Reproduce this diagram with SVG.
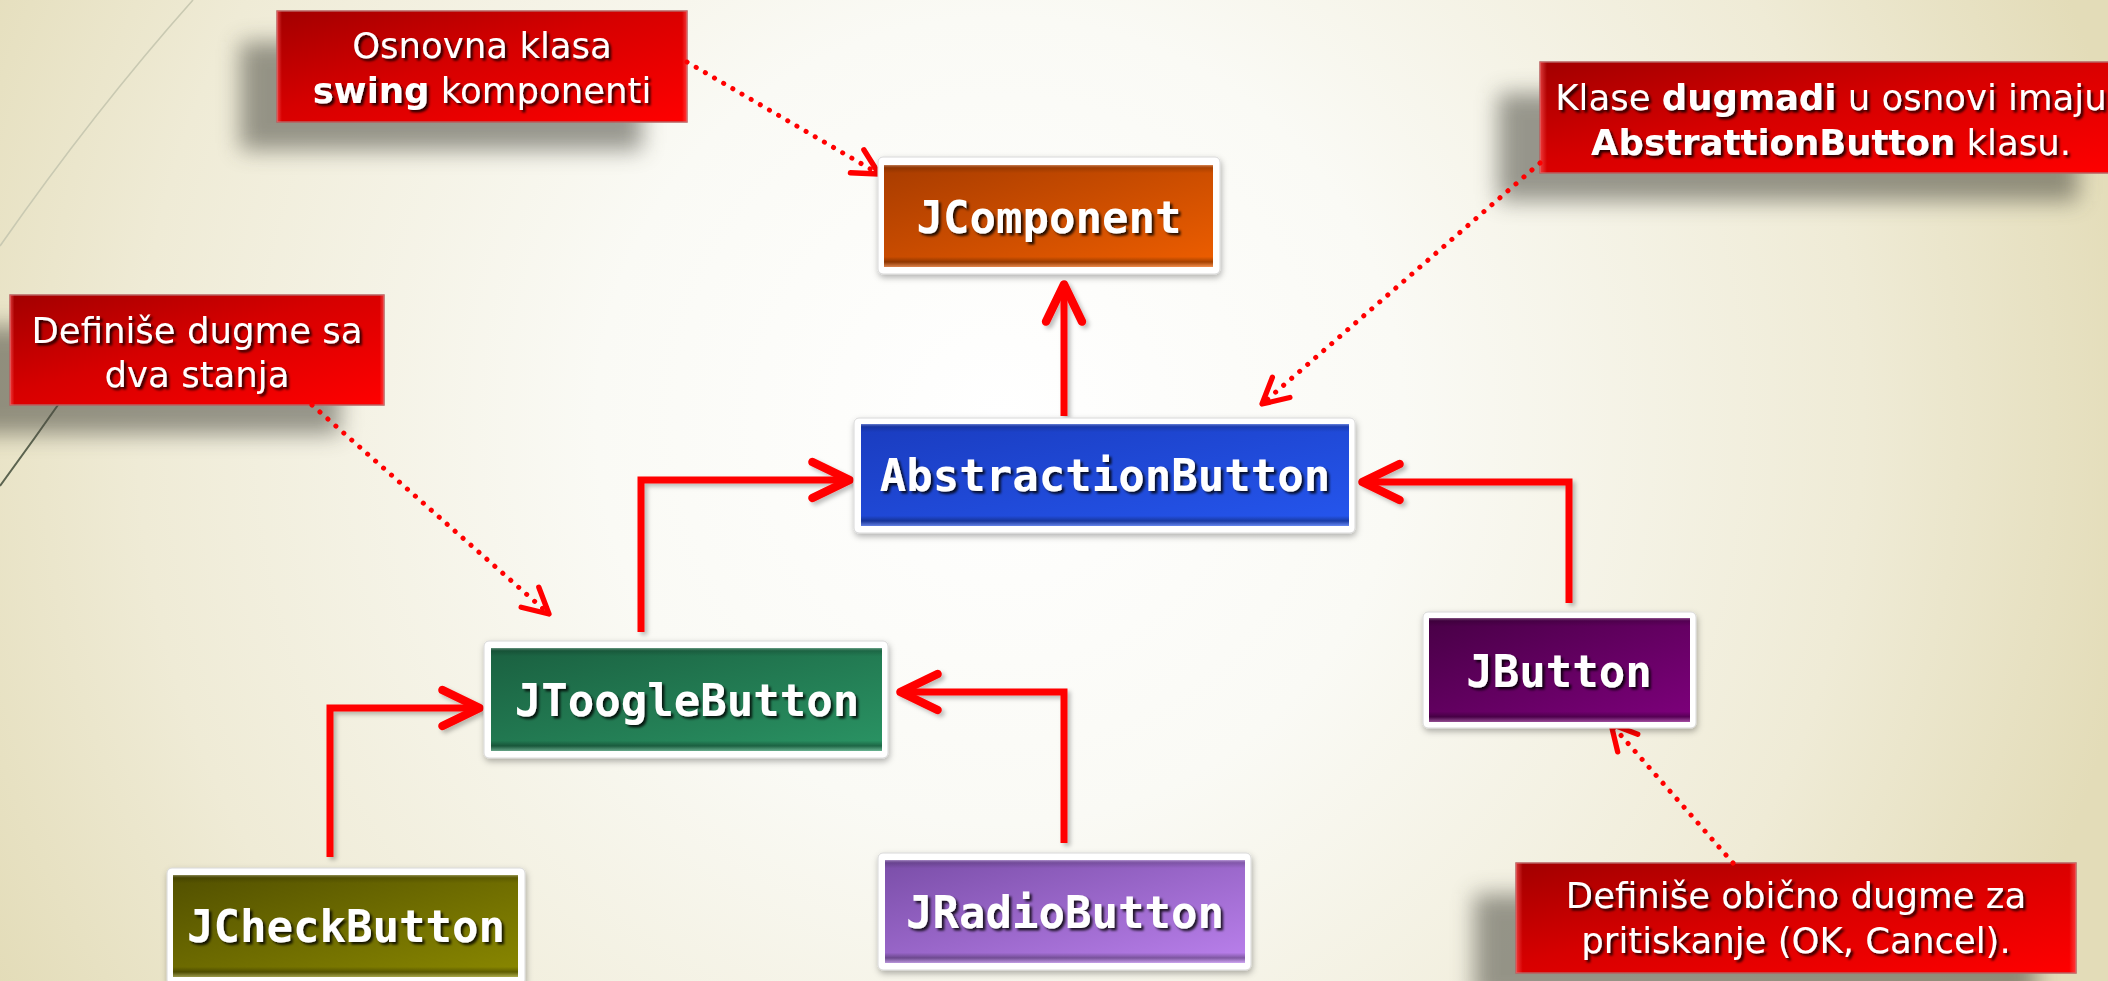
<svg xmlns="http://www.w3.org/2000/svg" width="2108" height="981" viewBox="0 0 2108 981">
<defs>
  <radialGradient id="bg" gradientUnits="userSpaceOnUse" cx="1000" cy="420" r="1150">
    <stop offset="0" stop-color="#ffffff"/>
    <stop offset="0.35" stop-color="#fafaf5"/>
    <stop offset="0.75" stop-color="#efebd6"/>
    <stop offset="1" stop-color="#e3dcb8"/>
  </radialGradient>
  <linearGradient id="gRed" x1="0" y1="0" x2="1" y2="1">
    <stop offset="0" stop-color="#a20000"/>
    <stop offset="0.45" stop-color="#d60000"/>
    <stop offset="1" stop-color="#ff0000"/>
  </linearGradient>
  <linearGradient id="gOrange" x1="0" y1="0" x2="1" y2="1">
    <stop offset="0" stop-color="#a83c00"/>
    <stop offset="1" stop-color="#ee5e00"/>
  </linearGradient>
  <linearGradient id="gBlue" x1="0" y1="0" x2="1" y2="1">
    <stop offset="0" stop-color="#1a3cbf"/>
    <stop offset="1" stop-color="#2556ee"/>
  </linearGradient>
  <linearGradient id="gGreen" x1="0" y1="0" x2="1" y2="1">
    <stop offset="0" stop-color="#1a6040"/>
    <stop offset="1" stop-color="#2a9464"/>
  </linearGradient>
  <linearGradient id="gOlive" x1="0" y1="0" x2="1" y2="1">
    <stop offset="0" stop-color="#525000"/>
    <stop offset="1" stop-color="#8a8800"/>
  </linearGradient>
  <linearGradient id="gLav" x1="0" y1="0" x2="1" y2="1">
    <stop offset="0" stop-color="#7a4ea8"/>
    <stop offset="1" stop-color="#ba80ec"/>
  </linearGradient>
  <linearGradient id="gPlum" x1="0" y1="0" x2="1" y2="1">
    <stop offset="0" stop-color="#480046"/>
    <stop offset="1" stop-color="#7e007c"/>
  </linearGradient>
  <linearGradient id="bevel" x1="0" y1="0" x2="0" y2="1">
    <stop offset="0" stop-color="#ffffff" stop-opacity="0.35"/>
    <stop offset="0.03" stop-color="#000000" stop-opacity="0.15"/>
    <stop offset="0.08" stop-color="#000000" stop-opacity="0"/>
    <stop offset="0.9" stop-color="#000000" stop-opacity="0"/>
    <stop offset="0.95" stop-color="#000000" stop-opacity="0.3"/>
    <stop offset="1" stop-color="#ffffff" stop-opacity="0.3"/>
  </linearGradient>
  <linearGradient id="cbevel" x1="0" y1="0" x2="1" y2="0">
    <stop offset="0" stop-color="#ff6060" stop-opacity="0.6"/>
    <stop offset="0.012" stop-color="#ff6060" stop-opacity="0"/>
    <stop offset="0.988" stop-color="#ff6060" stop-opacity="0"/>
    <stop offset="1" stop-color="#ff6060" stop-opacity="0.6"/>
  </linearGradient>
  <filter id="blur" x="-20%" y="-40%" width="140%" height="180%">
    <feGaussianBlur stdDeviation="11"/>
  </filter>
  <filter id="ts" x="-10%" y="-30%" width="120%" height="160%">
    <feDropShadow dx="2.5" dy="2.5" stdDeviation="1" flood-color="#000" flood-opacity="0.8"/>
  </filter>
  <filter id="nsh" x="-10%" y="-20%" width="120%" height="140%">
    <feDropShadow dx="1" dy="3" stdDeviation="3" flood-color="#000" flood-opacity="0.3"/>
  </filter>
  <filter id="lsh" x="-10%" y="-10%" width="120%" height="120%">
    <feDropShadow dx="3" dy="3" stdDeviation="2" flood-color="#000" flood-opacity="0.25"/>
  </filter>
  <marker id="ah" markerUnits="userSpaceOnUse" markerWidth="60" markerHeight="60" viewBox="-40 -25 50 50" refX="0" refY="0" orient="auto" overflow="visible">
    <path d="M-28,-15 L3,0 L-28,15" fill="none" stroke="#ff0000" stroke-width="7" stroke-linecap="round" stroke-linejoin="round"/>
  </marker>
  <marker id="ahd" markerUnits="userSpaceOnUse" markerWidth="40" markerHeight="40" viewBox="-25 -15 30 30" refX="0" refY="0" orient="auto" overflow="visible">
    <path d="M-19,-10 L0,0 L-19,10" fill="none" stroke="#ff0000" stroke-width="4" stroke-linecap="round" stroke-linejoin="round"/>
  </marker>
</defs>
<style>
  .frame { fill: #ffffff; stroke: #d8d8d8; stroke-width: 1; filter: url(#nsh); }
  .nt { font-family: "DejaVu Sans Mono", "Liberation Mono", monospace; font-weight: bold; font-size: 44px; fill: #ffffff; text-anchor: middle; filter: url(#ts); }
  .csh { fill: #4a4a40; opacity: 0.55; filter: url(#blur); }
  .cb { fill: url(#gRed); stroke: #b86060; stroke-width: 1.5; }
  .cbv { fill: url(#cbevel); }
  .ct { font-family: "DejaVu Sans", "Liberation Sans", sans-serif; font-size: 35.5px; fill: #ffffff; text-anchor: middle; filter: url(#ts); }
  .b { font-weight: bold; }
  .solid { fill: none; stroke: #ff0000; stroke-width: 7; stroke-linejoin: miter; marker-end: url(#ah); }
  .dot { fill: none; stroke: #ff0000; stroke-width: 5; stroke-linecap: round; stroke-dasharray: 0.1 10.5; marker-end: url(#ahd); }
  .deco { fill: none; }
</style>

<rect x="0" y="0" width="2108" height="981" fill="url(#bg)"/>
<path class="deco" d="M193,0 Q95,110 0,246" stroke="#c9c9b2" stroke-width="1.6"/>
<path class="deco" d="M130,300 Q70,390 0,486" stroke="#5c6450" stroke-width="2"/>

<!-- callouts -->
<g id="callout-osnovna">
  <rect class="csh" x="240" y="42" width="402" height="108"/>
  <rect class="cb" x="277" y="11" width="410" height="111"/>
  <rect class="cbv" x="277" y="11" width="410" height="111"/>
  <text class="ct" x="482" y="58">Osnovna klasa</text>
  <text class="ct" x="482" y="103"><tspan class="b">swing</tspan> komponenti</text>
</g>
<g id="callout-dva-stanja">
  <rect class="csh" x="-28" y="326" width="368" height="108"/>
  <rect class="cb" x="10" y="295" width="374" height="110"/>
  <rect class="cbv" x="10" y="295" width="374" height="110"/>
  <text class="ct" x="197" y="343">Definiše dugme sa</text>
  <text class="ct" x="197" y="387">dva stanja</text>
</g>
<g id="callout-klase">
  <rect class="csh" x="1498" y="93" width="580" height="108"/>
  <rect class="cb" x="1540" y="62" width="582" height="111"/>
  <rect class="cbv" x="1540" y="62" width="582" height="111"/>
  <text class="ct" x="1831" y="110" font-size="34.5">Klase <tspan class="b">dugmadi</tspan> u osnovi imaju</text>
  <text class="ct" x="1831" y="155" font-size="34.5"><tspan class="b">AbstrattionButton</tspan> klasu.</text>
</g>
<g id="callout-obicno">
  <rect class="csh" x="1474" y="894" width="562" height="108"/>
  <rect class="cb" x="1516" y="863" width="560" height="110"/>
  <rect class="cbv" x="1516" y="863" width="560" height="110"/>
  <text class="ct" x="1796" y="908" font-size="36.5">Definiše obično dugme za</text>
  <text class="ct" x="1796" y="953" font-size="36.5">pritiskanje (OK, Cancel).</text>
</g>

<!-- connectors -->
<g id="connectors">
  <g filter="url(#lsh)">
    <path class="solid" d="M1064,416 L1064,288"/>
    <path class="solid" d="M641,632 L641,480 L846,480"/>
    <path class="solid" d="M1569,603 L1569,482 L1366,482"/>
    <path class="solid" d="M330,857 L330,708 L476,708"/>
    <path class="solid" d="M1064,843 L1064,692 L904,692"/>
  </g>
  <path class="dot" d="M687,62 L879,174"/>
  <path class="dot" d="M1540,163 L1262,404"/>
  <path class="dot" d="M312,405 L549,614"/>
  <path class="dot" d="M1733,863 L1611,724"/>
</g>

<!-- nodes -->
<g id="jcomponent">
  <rect class="frame" x="878" y="157" width="342" height="117" rx="5"/>
  <rect x="884" y="165" width="329" height="102" fill="url(#gOrange)"/>
  <rect x="884" y="165" width="329" height="102" fill="url(#bevel)"/>
  <text class="nt" x="1049" y="233">JComponent</text>
</g>
<g id="abstractionbutton">
  <rect class="frame" x="854" y="418" width="501" height="115" rx="5"/>
  <rect x="861" y="424" width="488" height="102" fill="url(#gBlue)"/>
  <rect x="861" y="424" width="488" height="102" fill="url(#bevel)"/>
  <text class="nt" x="1105" y="491">AbstractionButton</text>
</g>
<g id="jtooglebutton">
  <rect class="frame" x="484" y="641" width="404" height="117" rx="5"/>
  <rect x="491" y="648" width="391" height="103" fill="url(#gGreen)"/>
  <rect x="491" y="648" width="391" height="103" fill="url(#bevel)"/>
  <text class="nt" x="687" y="716">JToogleButton</text>
</g>
<g id="jbutton">
  <rect class="frame" x="1423" y="612" width="273" height="116" rx="5"/>
  <rect x="1429" y="618" width="261" height="104" fill="url(#gPlum)"/>
  <rect x="1429" y="618" width="261" height="104" fill="url(#bevel)"/>
  <text class="nt" x="1559" y="687">JButton</text>
</g>
<g id="jcheckbutton">
  <rect class="frame" x="167" y="868" width="358" height="117" rx="5"/>
  <rect x="173" y="875" width="345" height="102" fill="url(#gOlive)"/>
  <rect x="173" y="875" width="345" height="102" fill="url(#bevel)"/>
  <text class="nt" x="346" y="942">JCheckButton</text>
</g>
<g id="jradiobutton">
  <rect class="frame" x="878" y="853" width="373" height="117" rx="5"/>
  <rect x="885" y="860" width="360" height="103" fill="url(#gLav)"/>
  <rect x="885" y="860" width="360" height="103" fill="url(#bevel)"/>
  <text class="nt" x="1065" y="928">JRadioButton</text>
</g>
</svg>
